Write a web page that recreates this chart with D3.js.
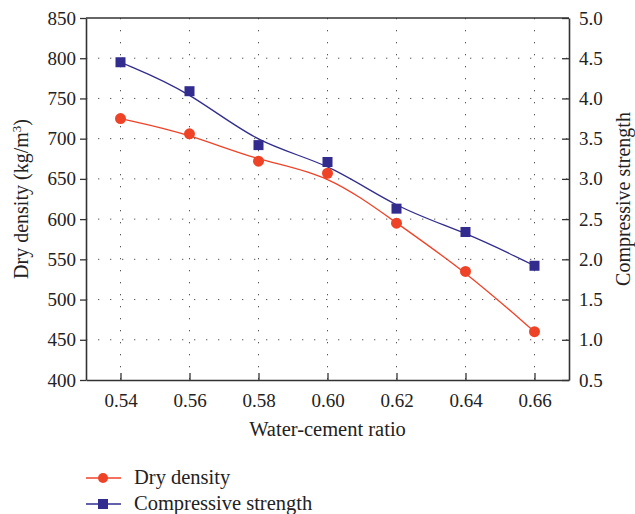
<!DOCTYPE html>
<html lang="en">
<head>
    <meta charset="UTF-8">
    <title>Dry density and compressive strength</title>
    <script src="https://d3js.org/d3.v7.min.js"></script>
    <style>
        * {
            margin: 0;
            padding: 0;
            box-sizing: border-box;
        }
        body {
            background: #fff;
            font-family: "Liberation Serif", "DejaVu Serif", serif;
        }
        svg text {
            fill: #222;
        }
    </style>
</head>
<body>
    <div id="chart"></div>
    <script>
        // data
        const ratios = [0.54, 0.56, 0.58, 0.60, 0.62, 0.64, 0.66];
        const dryDensity = [725, 706, 672, 657, 595, 535, 460];
        const strength = [4.45, 4.09, 3.42, 3.21, 2.63, 2.34, 1.92];
        const leftTicks = [400, 450, 500, 550, 600, 650, 700, 750, 800, 850];
        const rightTicks = [0.5, 1.0, 1.5, 2.0, 2.5, 3.0, 3.5, 4.0, 4.5, 5.0];

        const margin = { top: 18, right: 66, bottom: 134, left: 86 },
              width = 635 - margin.left - margin.right,
              height = 514 - margin.top - margin.bottom;

        const red = "#ef4328",
              blue = "#312c8e";

        const svg = d3.select("#chart")
            .append("svg")
            .attr("width", 635)
            .attr("height", 514)
            .append("g")
            .attr("transform", `translate(${margin.left},${margin.top})`);

        const x = d3.scaleLinear().domain([0.53, 0.67]).range([0, width]);
        const yL = d3.scaleLinear().domain([400, 850]).range([height, 0]);
        const yR = d3.scaleLinear().domain([0.5, 5.0]).range([height, 0]);

        // dotted grid
        svg.append("g")
            .selectAll("line.vg")
            .data(ratios)
            .join("line")
            .attr("x1", d => x(d)).attr("x2", d => x(d))
            .attr("y1", 0).attr("y2", height)
            .attr("stroke", "#555")
            .attr("stroke-width", 1)
            .attr("stroke-dasharray", "1.3,10.7");

        svg.append("g")
            .selectAll("line.hg")
            .data(leftTicks.slice(1, -1))
            .join("line")
            .attr("x1", 0).attr("x2", width)
            .attr("y1", d => yL(d)).attr("y2", d => yL(d))
            .attr("stroke", "#555")
            .attr("stroke-width", 1)
            .attr("stroke-dasharray", "1.3,10.7");

        // axes
        const fmt2 = d3.format(".2f"), fmt1 = d3.format(".1f");

        const gx = svg.append("g")
            .attr("transform", `translate(0,${height})`)
            .call(d3.axisBottom(x).tickValues(ratios).tickFormat(fmt2).tickSizeInner(-7).tickSizeOuter(0).tickPadding(14));

        const gl = svg.append("g")
            .call(d3.axisLeft(yL).tickValues(leftTicks).tickSizeInner(6).tickSizeOuter(0).tickPadding(4));

        const gr = svg.append("g")
            .attr("transform", `translate(${width},0)`)
            .call(d3.axisRight(yR).tickValues(rightTicks).tickFormat(fmt1).tickSizeInner(-7).tickSizeOuter(0).tickPadding(10));

        [gx, gl, gr].forEach(g => {
            g.selectAll("text")
                .style("font-family", "'Liberation Serif', serif")
                .style("font-size", "19px")
                .attr("fill", "#222");
            g.selectAll("line").attr("stroke", "#333").attr("stroke-width", 1.3);
            g.select(".domain").attr("stroke", "#333").attr("stroke-width", 1.6);
        });

        // top border
        svg.append("line")
            .attr("x1", 0).attr("x2", width)
            .attr("y1", 0).attr("y2", 0)
            .attr("stroke", "#333")
            .attr("stroke-width", 1.6);

        // smoothed lines
        const lineL = d3.line()
            .x((d, i) => x(ratios[i]))
            .y(d => yL(d))
            .curve(d3.curveBasis);

        const lineR = d3.line()
            .x((d, i) => x(ratios[i]))
            .y(d => yR(d))
            .curve(d3.curveBasis);

        svg.append("path")
            .datum(dryDensity)
            .attr("d", lineL)
            .attr("fill", "none")
            .attr("stroke", red)
            .attr("stroke-width", 1.3);

        svg.append("path")
            .datum(strength)
            .attr("d", lineR)
            .attr("fill", "none")
            .attr("stroke", blue)
            .attr("stroke-width", 1.3);

        svg.selectAll(".dot")
            .data(dryDensity)
            .join("circle")
            .attr("class", "dot")
            .attr("cx", (d, i) => x(ratios[i]))
            .attr("cy", d => yL(d))
            .attr("r", 5.5)
            .attr("fill", red);

        svg.selectAll(".sq")
            .data(strength)
            .join("rect")
            .attr("class", "sq")
            .attr("x", (d, i) => x(ratios[i]) - 5)
            .attr("y", d => yR(d) - 5)
            .attr("width", 10)
            .attr("height", 10)
            .attr("fill", blue);

        // axis titles
        svg.append("text")
            .attr("x", width / 2)
            .attr("y", height + 56)
            .attr("text-anchor", "middle")
            .style("font-size", "20.5px")
            .text("Water-cement ratio");

        const tl = svg.append("text")
            .attr("transform", `translate(${-58},${height / 2}) rotate(-90)`)
            .attr("text-anchor", "middle")
            .style("font-size", "20px");
        tl.append("tspan").text("Dry density (kg/m");
        tl.append("tspan").attr("dy", -7).style("font-size", "13px").text("3");
        tl.append("tspan").attr("dy", 7).text(")");

        svg.append("text")
            .attr("transform", `translate(${width + 61},${height / 2}) rotate(-90)`)
            .attr("text-anchor", "middle")
            .style("font-size", "20px")
            .text("Compressive strength");

        // legend
        const legend = svg.append("g")
            .attr("transform", `translate(0,${height + 98})`);

        const items = [
            { name: "Dry density", color: red, shape: "circle" },
            { name: "Compressive strength", color: blue, shape: "square" }
        ];

        items.forEach((it, i) => {
            const g = legend.append("g").attr("transform", `translate(0,${i * 26})`);
            g.append("line")
                .attr("x1", 0).attr("x2", 35)
                .attr("stroke", it.color)
                .attr("stroke-width", 1.3);
            if (it.shape === "circle") {
                g.append("circle").attr("cx", 17).attr("r", 5).attr("fill", it.color);
            } else {
                g.append("rect").attr("x", 12).attr("y", -5).attr("width", 10).attr("height", 10).attr("fill", it.color);
            }
            g.append("text")
                .attr("x", 48)
                .attr("y", 6)
                .style("font-size", "20.5px")
                .text(it.name);
        });
    </script>
</body>
</html>
